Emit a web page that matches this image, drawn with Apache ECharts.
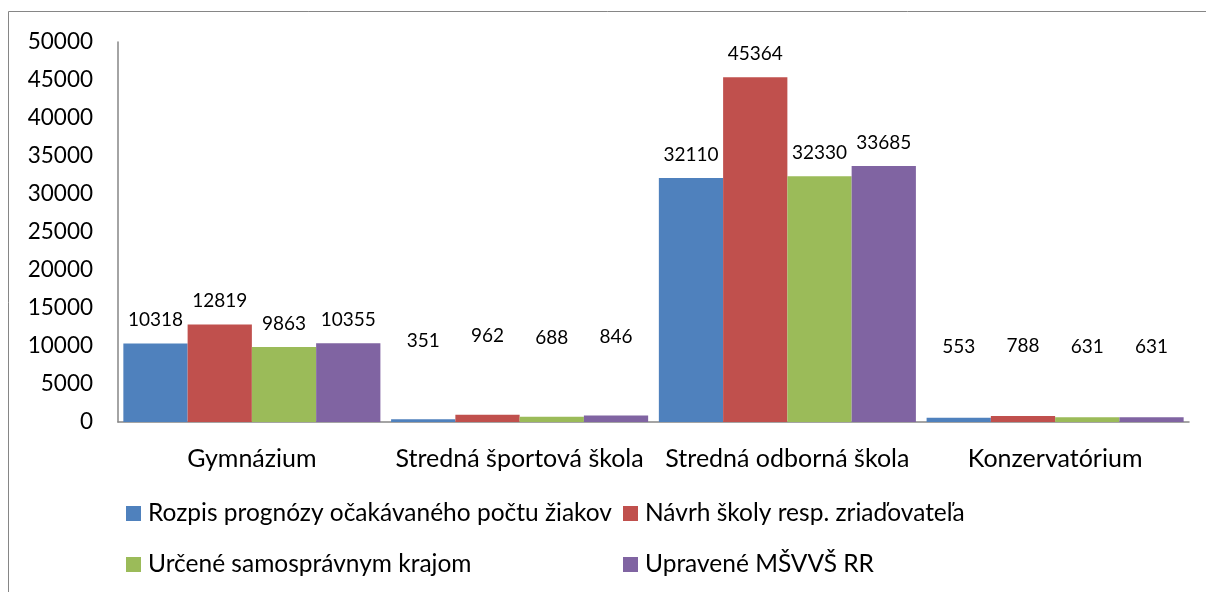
<!DOCTYPE html>
<html>
<head>
<meta charset="utf-8">
<script src="https://cdn.jsdelivr.net/npm/echarts@6/dist/echarts.min.js"></script>
<style>
  html, body { margin: 0; padding: 0; background: #fff; }
  #chart { width: 1206px; height: 592px; }
</style>
</head>
<body>
<div id="chart"></div>
<script>
const categories = ['Gymnázium', 'Stredná športová škola', 'Stredná odborná škola', 'Konzervatórium']
const seriesNames = [
  'Rozpis prognózy očakávaného počtu žiakov',
  'Návrh školy resp. zriaďovateľa',
  'Určené samosprávnym krajom',
  'Upravené MŠVVŠ RR'
]
const rozpis = [10318, 351, 32110, 553]
const navrh = [12819, 962, 45364, 788]
const urcene = [9863, 688, 32330, 631]
const upravene = [10355, 846, 33685, 631]

const colors = ['#4F81BD', '#C0504D', '#9BBB59', '#8064A2']
// labels of the small bars sit higher, like in the original
const labelLift = [14, 69, 14, 61]

const font = 'Lato, "Open Sans", sans-serif'

const makeSeries = (name, values, i) => ({
  name,
  type: 'bar',
  barGap: '0%',
  barCategoryGap: '4%',
  itemStyle: { color: colors[i] },
  label: {
    show: true,
    position: 'top',
    color: '#000',
    fontFamily: font,
    fontSize: 19
  },
  data: values.map((v, c) => ({ value: v, label: { distance: labelLift[c] } }))
})

const legendBase = {
  orient: 'vertical',
  top: 501,
  padding: 0,
  itemGap: 26,
  icon: 'rect',
  itemWidth: 15,
  itemHeight: 15,
  textStyle: { fontFamily: font, fontSize: 24.5, color: '#000', padding: [0, 0, 0, 2] }
}

const chart = echarts.init(document.getElementById('chart'))
chart.setOption({
  animation: false,
  graphic: [{
    type: 'rect',
    shape: { x: 8.5, y: 11.5, width: 1400, height: 800 },
    style: { fill: 'none', stroke: '#868686', lineWidth: 1 },
    silent: true
  }],
  grid: { left: 118, top: 42, right: 17, bottom: 170 },
  legend: [
    Object.assign({}, legendBase, { data: [seriesNames[0], seriesNames[2]], left: 126 }),
    Object.assign({}, legendBase, { data: [seriesNames[1], seriesNames[3]], left: 623 })
  ],
  xAxis: {
    type: 'category',
    data: categories,
    axisLine: { lineStyle: { color: '#868686', width: 1.5 } },
    axisTick: { show: false },
    axisLabel: { color: '#000', fontFamily: font, fontSize: 25, margin: 24, interval: 0 }
  },
  yAxis: {
    type: 'value',
    min: 0,
    max: 50000,
    interval: 5000,
    splitLine: { show: false },
    axisLine: { show: true, lineStyle: { color: '#868686', width: 1.5 } },
    axisTick: { show: false },
    axisLabel: {
      color: '#000',
      fontFamily: font,
      fontSize: 22.5,
      margin: 25,
      formatter: (v) => String(v)
    }
  },
  series: [
    makeSeries(seriesNames[0], rozpis, 0),
    makeSeries(seriesNames[1], navrh, 1),
    makeSeries(seriesNames[2], urcene, 2),
    makeSeries(seriesNames[3], upravene, 3)
  ]
})
</script>
</body>
</html>
